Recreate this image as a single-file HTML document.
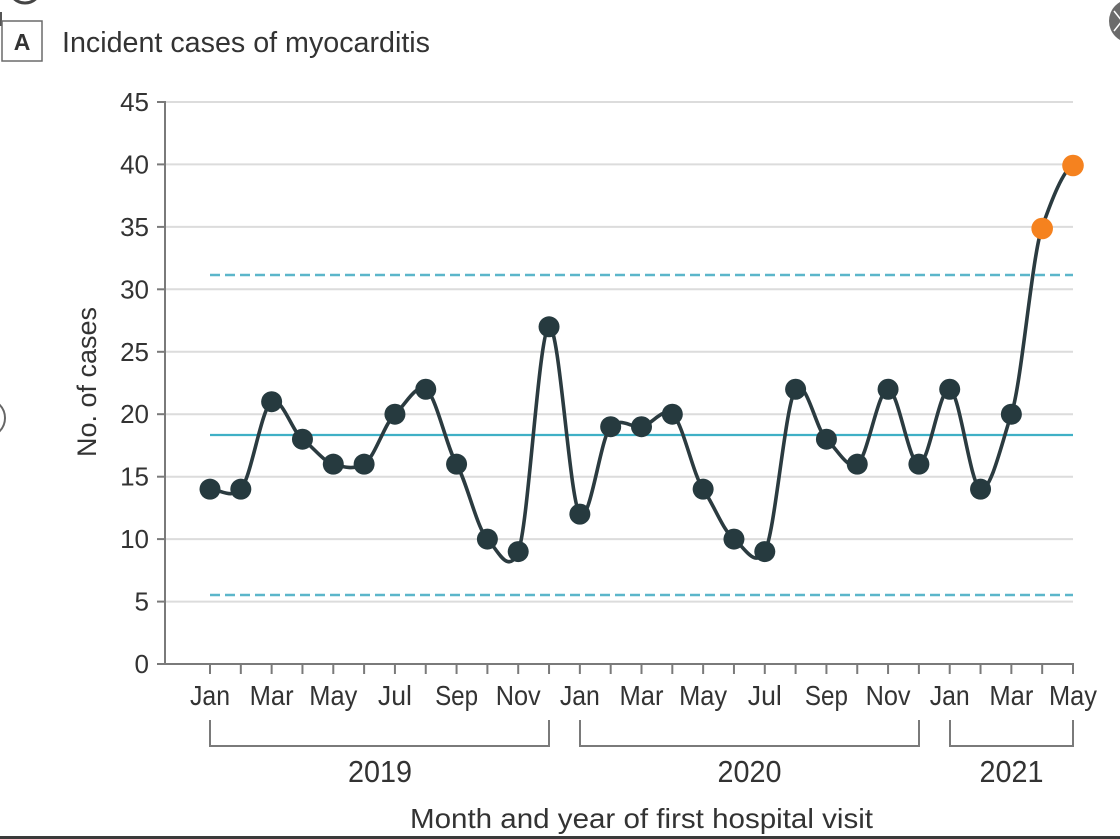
<!DOCTYPE html>
<html>
<head>
<meta charset="utf-8">
<style>
html,body{margin:0;padding:0;background:#fff;}
svg{display:block;}
text{font-family:"Liberation Sans",Arial,sans-serif;fill:#333;}
</style>
</head>
<body>
<svg width="1120" height="839" viewBox="0 0 1120 839" xmlns="http://www.w3.org/2000/svg">
<rect x="0" y="0" width="1120" height="839" fill="#fff"/>

<!-- edge artifacts -->
<circle cx="25" cy="-13" r="16" fill="none" stroke="#444" stroke-width="3"/>
<line x1="1" y1="12" x2="1" y2="26" stroke="#555" stroke-width="2"/>
<circle cx="-14" cy="418" r="19" fill="none" stroke="#666" stroke-width="2"/>
<circle cx="1131" cy="21" r="22" fill="#6b6b6b"/>
<path d="M1114,11 L1122,21 L1114,31" fill="none" stroke="#fff" stroke-width="1.5"/>

<!-- panel label -->
<rect x="2" y="21" width="40" height="40" fill="#fff" stroke="#6a6a6a" stroke-width="1.5"/>
<text x="22" y="50" font-size="23" font-weight="bold" text-anchor="middle" fill="#2e2e2e">A</text>
<text x="62" y="52" font-size="29" textLength="368" lengthAdjust="spacingAndGlyphs" fill="#3c3c3c">Incident cases of myocarditis</text>

<!-- gridlines -->
<g stroke="#dcdcdc" stroke-width="2">
<line x1="165" y1="102" x2="1073" y2="102"/>
<line x1="165" y1="164.4" x2="1073" y2="164.4"/>
<line x1="165" y1="226.9" x2="1073" y2="226.9"/>
<line x1="165" y1="289.3" x2="1073" y2="289.3"/>
<line x1="165" y1="351.8" x2="1073" y2="351.8"/>
<line x1="165" y1="414.2" x2="1073" y2="414.2"/>
<line x1="165" y1="476.7" x2="1073" y2="476.7"/>
<line x1="165" y1="539.1" x2="1073" y2="539.1"/>
<line x1="165" y1="601.6" x2="1073" y2="601.6"/>
</g>

<!-- axes -->
<g stroke="#7a7a7a" stroke-width="2">
<line x1="165" y1="101" x2="165" y2="665"/>
<line x1="157" y1="664" x2="1074" y2="664"/>
<line x1="157" y1="102" x2="165" y2="102"/>
<line x1="157" y1="164.4" x2="165" y2="164.4"/>
<line x1="157" y1="226.9" x2="165" y2="226.9"/>
<line x1="157" y1="289.3" x2="165" y2="289.3"/>
<line x1="157" y1="351.8" x2="165" y2="351.8"/>
<line x1="157" y1="414.2" x2="165" y2="414.2"/>
<line x1="157" y1="476.7" x2="165" y2="476.7"/>
<line x1="157" y1="539.1" x2="165" y2="539.1"/>
<line x1="157" y1="601.6" x2="165" y2="601.6"/>
</g>
<!-- x ticks -->
<path stroke="#7a7a7a" stroke-width="2" fill="none" d="
M210,664V674 M240.82,664V674 M271.64,664V674 M302.46,664V674 M333.29,664V674 M364.11,664V674 M394.93,664V674 M425.75,664V674 M456.57,664V674 M487.39,664V674 M518.21,664V674 M549.04,664V674 M579.86,664V674 M610.68,664V674 M641.5,664V674 M672.32,664V674 M703.14,664V674 M733.96,664V674 M764.79,664V674 M795.61,664V674 M826.43,664V674 M857.25,664V674 M888.07,664V674 M918.89,664V674 M949.71,664V674 M980.54,664V674 M1011.36,664V674 M1042.18,664V674 M1073,664V674"/>

<!-- y tick labels -->
<g font-size="26" text-anchor="end">
<text x="149" y="111">45</text>
<text x="149" y="173.4">40</text>
<text x="149" y="235.9">35</text>
<text x="149" y="298.3">30</text>
<text x="149" y="360.8">25</text>
<text x="149" y="423.2">20</text>
<text x="149" y="485.7">15</text>
<text x="149" y="548.1">10</text>
<text x="149" y="610.6">5</text>
<text x="149" y="673">0</text>
</g>
<text transform="translate(96,382) rotate(-90)" font-size="27" text-anchor="middle" textLength="150" lengthAdjust="spacingAndGlyphs">No. of cases</text>

<!-- month labels -->
<g font-size="28" text-anchor="middle">
<text x="210" y="705" textLength="40" lengthAdjust="spacingAndGlyphs">Jan</text>
<text x="271.64" y="705" textLength="44" lengthAdjust="spacingAndGlyphs">Mar</text>
<text x="333.29" y="705" textLength="48" lengthAdjust="spacingAndGlyphs">May</text>
<text x="394.93" y="705" textLength="34" lengthAdjust="spacingAndGlyphs">Jul</text>
<text x="456.57" y="705" textLength="43" lengthAdjust="spacingAndGlyphs">Sep</text>
<text x="518.21" y="705" textLength="45" lengthAdjust="spacingAndGlyphs">Nov</text>
<text x="579.86" y="705" textLength="40" lengthAdjust="spacingAndGlyphs">Jan</text>
<text x="641.5" y="705" textLength="44" lengthAdjust="spacingAndGlyphs">Mar</text>
<text x="703.14" y="705" textLength="48" lengthAdjust="spacingAndGlyphs">May</text>
<text x="764.79" y="705" textLength="34" lengthAdjust="spacingAndGlyphs">Jul</text>
<text x="826.43" y="705" textLength="43" lengthAdjust="spacingAndGlyphs">Sep</text>
<text x="888.07" y="705" textLength="45" lengthAdjust="spacingAndGlyphs">Nov</text>
<text x="949.71" y="705" textLength="40" lengthAdjust="spacingAndGlyphs">Jan</text>
<text x="1011.36" y="705" textLength="44" lengthAdjust="spacingAndGlyphs">Mar</text>
<text x="1073" y="705" textLength="48" lengthAdjust="spacingAndGlyphs">May</text>
</g>

<!-- year brackets -->
<path fill="none" stroke="#7a7a7a" stroke-width="2" d="M210,720V746H549V720 M580,720V746H919V720 M950,720V746H1073V720"/>
<g font-size="31" text-anchor="middle">
<text x="380" y="782" textLength="64" lengthAdjust="spacingAndGlyphs">2019</text>
<text x="749.5" y="782" textLength="64" lengthAdjust="spacingAndGlyphs">2020</text>
<text x="1011.5" y="782" textLength="64" lengthAdjust="spacingAndGlyphs">2021</text>
</g>
<text x="641.5" y="828" font-size="28" text-anchor="middle" textLength="463" lengthAdjust="spacingAndGlyphs">Month and year of first hospital visit</text>

<!-- control lines -->
<line x1="210" y1="275" x2="1073" y2="275" stroke="#5bb6ca" stroke-width="2.5" stroke-dasharray="10 5"/>
<line x1="210" y1="595" x2="1073" y2="595" stroke="#5bb6ca" stroke-width="2.5" stroke-dasharray="10 5"/>
<line x1="210" y1="435" x2="1073" y2="435" stroke="#3fb0c6" stroke-width="2.2"/>

<!-- data curve -->
<g transform="translate(210 664) scale(30.8214 -12.4889)">
<path vector-effect="non-scaling-stroke" fill="none" stroke="#2b3b40" stroke-width="3.6" stroke-linejoin="round" d="M0,14 C0.333,14 0.667,13.183 1,14 C1.333,14.817 1.667,20.533 2,21 C2.333,21.467 2.667,18.583 3,18 C3.333,17.417 3.667,16.233 4,16 C4.333,15.767 4.667,15.533 5,16 C5.333,16.467 5.667,19.3 6,20 C6.333,20.7 6.667,22.467 7,22 C7.333,21.533 7.667,17.4 8,16 C8.333,14.6 8.667,10.817 9,10 C9.333,9.183 9.667,7.017 10,9 C10.333,10.983 10.667,26.65 11,27 C11.333,27.35 11.667,12.933 12,12 C12.333,11.067 12.667,18.183 13,19 C13.333,19.817 13.667,18.883 14,19 C14.333,19.117 14.667,20.583 15,20 C15.333,19.417 15.667,15.167 16,14 C16.333,12.833 16.667,10.583 17,10 C17.333,9.417 17.667,7.6 18,9 C18.333,10.4 18.667,20.95 19,22 C19.333,23.05 19.667,18.7 20,18 C20.333,17.3 20.667,15.533 21,16 C21.333,16.467 21.667,22 22,22 C22.333,22 22.667,16 23,16 C23.333,16 23.667,22.233 24,22 C24.333,21.767 24.667,14.233 25,14 C25.333,13.767 25.667,17.55 26,20 C26.333,22.45 26.667,32.667 27,35 C27.333,37.333 27.667,39.417 28,40"/>
</g>

<!-- points -->
<g fill="#263a3f">
<circle cx="210" cy="489.16" r="10.5"/>
<circle cx="240.82" cy="489.16" r="10.5"/>
<circle cx="271.64" cy="401.73" r="10.5"/>
<circle cx="302.46" cy="439.2" r="10.5"/>
<circle cx="333.29" cy="464.18" r="10.5"/>
<circle cx="364.11" cy="464.18" r="10.5"/>
<circle cx="394.93" cy="414.22" r="10.5"/>
<circle cx="425.75" cy="389.24" r="10.5"/>
<circle cx="456.57" cy="464.18" r="10.5"/>
<circle cx="487.39" cy="539.11" r="10.5"/>
<circle cx="518.21" cy="551.6" r="10.5"/>
<circle cx="549.04" cy="326.8" r="10.5"/>
<circle cx="579.86" cy="514.13" r="10.5"/>
<circle cx="610.68" cy="426.71" r="10.5"/>
<circle cx="641.5" cy="426.71" r="10.5"/>
<circle cx="672.32" cy="414.22" r="10.5"/>
<circle cx="703.14" cy="489.16" r="10.5"/>
<circle cx="733.96" cy="539.11" r="10.5"/>
<circle cx="764.79" cy="551.6" r="10.5"/>
<circle cx="795.61" cy="389.24" r="10.5"/>
<circle cx="826.43" cy="439.2" r="10.5"/>
<circle cx="857.25" cy="464.18" r="10.5"/>
<circle cx="888.07" cy="389.24" r="10.5"/>
<circle cx="918.89" cy="464.18" r="10.5"/>
<circle cx="949.71" cy="389.24" r="10.5"/>
<circle cx="980.54" cy="489.16" r="10.5"/>
<circle cx="1011.36" cy="414.22" r="10.5"/>
</g>
<g fill="#f5821f">
<circle cx="1042.18" cy="228.5" r="10.8"/>
<circle cx="1073" cy="165.5" r="10.8"/>
</g>

<!-- bottom bar -->
<rect x="0" y="836" width="1120" height="3" fill="#3a3a3a"/>
</svg>
</body>
</html>
